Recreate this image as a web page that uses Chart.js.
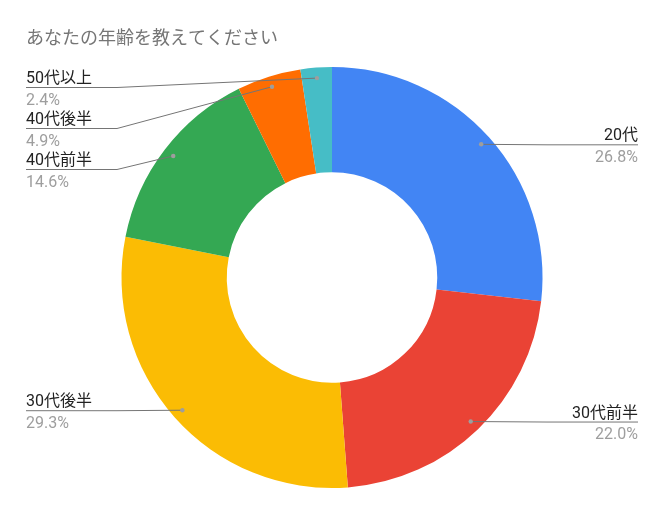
<!DOCTYPE html>
<html>
<head>
<meta charset="utf-8">
<script src="https://cdn.jsdelivr.net/npm/chart.js@4/dist/chart.umd.min.js"></script>
<style>
  html, body { margin: 0; padding: 0; background: #ffffff; }
  #wrap { width: 664px; height: 514px; }
</style>
</head>
<body>
<div id="wrap"><canvas id="c" width="664" height="514"></canvas></div>
<script>
const chartTitle = 'あなたの年齢を教えてください';
const categories = ['20代', '30代前半', '30代後半', '40代前半', '40代後半', '50代以上'];
const values = [26.8, 22.0, 29.3, 14.6, 4.9, 2.4];
const colors = ['#4285F4', '#EA4335', '#FBBC04', '#34A853', '#FF6D01', '#46BDC6'];

const FONT = 'Roboto, "Noto Sans CJK JP", sans-serif';

const labelPlugin = {
  id: 'sheetLabels',
  afterDraw(chart) {
    const ctx = chart.ctx;
    const meta = chart.getDatasetMeta(0);
    const total = values.reduce((a, b) => a + b, 0);
    ctx.save();
    // title
    ctx.font = '18px ' + FONT;
    ctx.fillStyle = '#757575';
    ctx.textAlign = 'left';
    ctx.textBaseline = 'alphabetic';
    ctx.fillText(chartTitle, 26, 44);

    const items = meta.data.map((arc, i) => {
      const p = arc.getProps(['x', 'y', 'startAngle', 'endAngle', 'outerRadius', 'innerRadius'], true);
      const mid = (p.startAngle + p.endAngle) / 2;
      const r = p.outerRadius * 0.95;
      return {
        i,
        dx: p.x + Math.cos(mid) * r,
        dy: p.y + Math.sin(mid) * r,
        side: Math.cos(mid) >= 0 ? 'right' : 'left'
      };
    });
    ['left', 'right'].forEach(side => {
      const list = items.filter(it => it.side === side).sort((a, b) => a.dy - b.dy);
      let prev = -Infinity;
      list.forEach(it => {
        it.ly = Math.max(it.dy, prev + 41, 87);
        prev = it.ly;
      });
    });

    items.forEach(it => {
      const leftX = 26, rightX = 638;
      ctx.strokeStyle = '#757575';
      ctx.lineWidth = 1;
      ctx.beginPath();
      if (it.side === 'left') {
        ctx.moveTo(leftX, it.ly + 0.5);
        ctx.lineTo(117, it.ly + 0.5);
        ctx.lineTo(it.dx, it.dy);
      } else {
        ctx.moveTo(it.dx, it.dy);
        ctx.lineTo(547, it.ly + 0.5);
        ctx.lineTo(rightX, it.ly + 0.5);
      }
      ctx.stroke();
      ctx.fillStyle = '#9e9e9e';
      ctx.beginPath();
      ctx.arc(it.dx, it.dy, 2.2, 0, Math.PI * 2);
      ctx.fill();

      ctx.textAlign = it.side === 'left' ? 'left' : 'right';
      const tx = it.side === 'left' ? leftX : rightX;
      ctx.font = '16px ' + FONT;
      ctx.fillStyle = '#222222';
      ctx.fillText(categories[it.i], tx, it.ly - 4);
      ctx.fillStyle = '#9e9e9e';
      ctx.fillText((values[it.i] / total * 100).toFixed(1) + '%', tx, it.ly + 17.5);
    });
    ctx.restore();
  }
};

new Chart(document.getElementById('c'), {
  type: 'doughnut',
  data: {
    labels: categories,
    datasets: [{
      data: values,
      backgroundColor: colors,
      borderWidth: 0,
      hoverOffset: 0
    }]
  },
  options: {
    responsive: false,
    animation: false,
    events: [],
    cutout: '50%',
    layout: { padding: { top: 67, bottom: 26, left: 0, right: 0 } },
    plugins: {
      legend: { display: false },
      title: { display: false },
      tooltip: { enabled: false }
    }
  },
  plugins: [labelPlugin]
});
</script>
</body>
</html>
